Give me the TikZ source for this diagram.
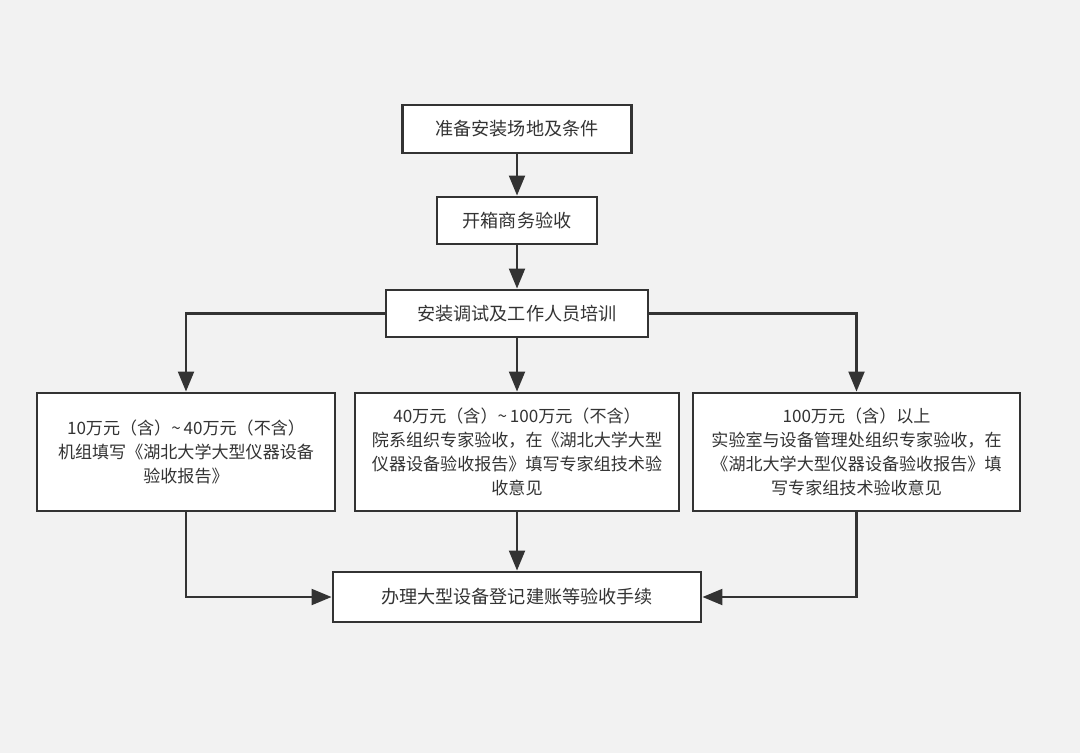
\documentclass[tikz,border=0pt]{standalone}
\usepackage{fontspec}
\setmainfont{Noto Sans CJK SC}
\usetikzlibrary{arrows.meta}
\definecolor{bg}{HTML}{F2F2F2}
\definecolor{ink}{HTML}{333333}
\begin{document}
\begin{tikzpicture}[x=0.75pt,y=-0.75pt,
  box/.style={draw=ink, line width=2.2pt, fill=white, rectangle, inner sep=0pt,
    align=center, text=ink, font=\fontsize{13.6pt}{18pt}\selectfont},
  rowbox/.style={box, font=\fontsize{12.8pt}{18pt}\selectfont},
  conn/.style={draw=ink, line width=1.6pt, -{Triangle[length=15pt,width=12pt]}}]
\fill[bg] (0,0) rectangle (1080,753);
\useasboundingbox (0,0) rectangle (1080,753);
\node[box, minimum width={229*0.75pt}, minimum height={48*0.75pt}] (n1) at (517,129) {准备安装场地及条件};
\node[box, minimum width={160*0.75pt}, minimum height={47*0.75pt}] (n2) at (517,220.5) {开箱商务验收};
\node[box, minimum width={262*0.75pt}, minimum height={47*0.75pt}] (n3) at (517,313.5) {安装调试及工作人员培训};
\node[rowbox, minimum width={298*0.75pt}, minimum height={118*0.75pt}] (a) at (186,452)
  {10万元（含）\textasciitilde\,40万元（不含）\\机组填写《湖北大学大型仪器设备\\验收报告》};
\node[rowbox, minimum width={324*0.75pt}, minimum height={118*0.75pt}] (b) at (517,452)
  {40万元（含）\textasciitilde\,100万元（不含）\\院系组织专家验收，在《湖北大学大型\\仪器设备验收报告》填写专家组技术验\\收意见};
\node[rowbox, minimum width={327*0.75pt}, minimum height={118*0.75pt}] (c) at (856.5,452)
  {100万元（含）以上\\实验室与设备管理处组织专家验收，在\\《湖北大学大型仪器设备验收报告》填\\写专家组技术验收意见};
\node[box, minimum width={368*0.75pt}, minimum height={50*0.75pt}] (d) at (517,597) {办理大型设备登记建账等验收手续};
\draw[conn] (n1.south) -- (n2.north);
\draw[conn] (n2.south) -- (n3.north);
\draw[conn] (n3.south) -- (b.north);
\draw[conn] (n3.west) -| (a.north);
\draw[conn] (n3.east) -| (c.north);
\draw[conn] (b.south) -- (d.north);
\draw[conn] (a.south) |- (d.west);
\draw[conn] (c.south) |- (d.east);
\end{tikzpicture}
\end{document}
